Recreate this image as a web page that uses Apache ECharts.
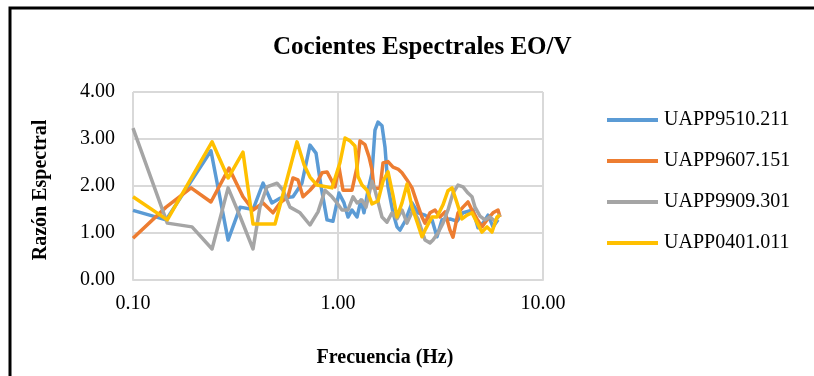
<!DOCTYPE html>
<html>
<head>
<meta charset="utf-8">
<script src="https://cdn.jsdelivr.net/npm/echarts@6/dist/echarts.min.js"></script>
<style>
  html, body { margin: 0; padding: 0; background: #fff; }
  #chart { width: 814px; height: 376px; }
</style>
</head>
<body>
<div id="chart"></div>
<script>
// nombres de las estaciones
const seriesNames = ["UAPP9510.211", "UAPP9607.151", "UAPP9909.301", "UAPP0401.011"];
const seriesColors = ["#5B9BD5", "#ED7D31", "#A5A5A5", "#FFC000"];

// UAPP9510.211
const freqBlue = [0.100, 0.145, 0.240, 0.291, 0.333, 0.385, 0.431, 0.476, 0.521, 0.603,
  0.667, 0.730, 0.781, 0.826, 0.884, 0.945, 1.011, 1.070, 1.119, 1.170,
  1.238, 1.295, 1.339, 1.401, 1.465, 1.515, 1.567, 1.639, 1.695, 1.754,
  1.855, 1.940, 2.006, 2.123, 2.296, 2.456, 2.657, 2.874, 3.040, 3.216,
  3.518, 3.806, 4.072, 4.556, 4.818, 5.096, 5.392, 5.703, 6.033];
const valBlue = [1.48, 1.28, 2.75, 0.85, 1.55, 1.50, 2.06, 1.64, 1.74, 1.77,
  2.06, 2.87, 2.70, 2.00, 1.28, 1.25, 1.85, 1.64, 1.34, 1.49,
  1.34, 1.70, 1.43, 1.91, 2.28, 3.19, 3.36, 3.28, 2.83, 1.98,
  1.43, 1.13, 1.06, 1.25, 1.64, 1.43, 1.38, 1.28, 0.92, 1.28,
  1.30, 1.25, 1.43, 1.49, 1.11, 1.21, 1.38, 1.13, 1.28];

// UAPP9607.151
const freqOrange = [0.100, 0.145, 0.192, 0.240, 0.294, 0.344, 0.385, 0.431, 0.482, 0.521,
  0.570, 0.603, 0.638, 0.675, 0.730, 0.790, 0.836, 0.884, 0.967, 1.011,
  1.058, 1.170, 1.238, 1.280, 1.354, 1.417, 1.465, 1.498, 1.603, 1.658,
  1.754, 1.855, 1.962, 2.052, 2.171, 2.296, 2.429, 2.568, 2.657, 2.811,
  2.973, 3.144, 3.326, 3.518, 3.639, 3.849, 4.072, 4.306, 4.504, 4.764,
  5.040, 5.332, 5.703, 6.033, 6.170];
const valOrange = [0.89, 1.55, 1.96, 1.66, 2.38, 1.77, 1.49, 1.64, 1.43, 1.64,
  1.77, 2.17, 2.13, 1.77, 1.91, 2.08, 2.28, 2.30, 1.98, 2.40,
  1.91, 1.91, 2.40, 2.96, 2.88, 2.62, 2.35, 1.95, 1.95, 2.49,
  2.52, 2.40, 2.36, 2.28, 2.13, 1.96, 1.64, 1.34, 1.21, 1.43,
  1.49, 1.34, 1.45, 1.06, 0.91, 1.43, 1.55, 1.66, 1.49, 1.30,
  1.13, 1.28, 1.43, 1.49, 1.34];

// UAPP9909.301
const freqGray = [0.100, 0.147, 0.194, 0.243, 0.291, 0.333, 0.385, 0.416, 0.450, 0.504,
  0.539, 0.583, 0.653, 0.730, 0.799, 0.864, 0.935, 0.989, 1.046, 1.119,
  1.184, 1.238, 1.309, 1.370, 1.465, 1.515, 1.639, 1.734, 1.834, 1.940,
  2.052, 2.171, 2.322, 2.456, 2.657, 2.811, 2.907, 3.074, 3.252, 3.440,
  3.639, 3.849, 4.072, 4.306, 4.504, 4.660, 4.928, 5.213, 5.514, 5.833, 6.170];
const valGray = [3.23, 1.21, 1.13, 0.66, 1.96, 1.35, 0.66, 1.55, 1.98, 2.06,
  1.91, 1.55, 1.43, 1.17, 1.45, 1.91, 1.77, 1.64, 1.49, 1.49,
  1.77, 1.64, 1.70, 1.55, 2.10, 1.91, 1.34, 1.23, 1.43, 1.30,
  1.49, 1.21, 1.49, 1.30, 0.85, 0.79, 0.85, 1.00, 1.21, 1.49,
  1.85, 2.02, 1.98, 1.85, 1.77, 1.55, 1.36, 1.28, 1.34, 1.25, 1.40];

// UAPP0401.011
const freqYellow = [0.100, 0.147, 0.243, 0.291, 0.344, 0.385, 0.493, 0.631, 0.683, 0.730,
  0.790, 0.935, 1.023, 1.082, 1.145, 1.210, 1.252, 1.309, 1.385, 1.465,
  1.567, 1.658, 1.754, 1.855, 1.940, 2.052, 2.171, 2.296, 2.429, 2.568,
  2.657, 2.874, 3.040, 3.252, 3.440, 3.598, 3.806, 4.026, 4.258, 4.504,
  4.764, 5.040, 5.332, 5.639, 5.966, 6.170];
const valYellow = [1.77, 1.28, 2.94, 2.17, 2.72, 1.19, 1.19, 2.94, 2.45, 2.19,
  2.02, 1.96, 2.50, 3.02, 2.96, 2.85, 2.20, 2.02, 1.91, 1.62,
  1.68, 2.10, 2.30, 1.80, 1.34, 1.64, 2.04, 1.55, 1.24, 0.92,
  1.06, 1.34, 1.34, 1.60, 1.90, 1.96, 1.64, 1.30, 1.38, 1.43,
  1.22, 1.02, 1.13, 1.02, 1.34, 1.38];

const freqs = [freqBlue, freqOrange, freqGray, freqYellow];
const vals = [valBlue, valOrange, valGray, valYellow];

const serif = "'Liberation Serif', 'Times New Roman', serif";
const gridColor = "#d9d9d9";

const chart = echarts.init(document.getElementById("chart"), null, { renderer: "canvas" });

const option = {
  animation: false,
  backgroundColor: "#fff",
  title: {
    text: "Cocientes Espectrales EO/V",
    left: 268,
    top: 30,
    textStyle: { fontFamily: serif, fontSize: 25, fontWeight: "bold", color: "#000" },
  },
  legend: {
    orient: "vertical",
    left: 602,
    top: 105,
    itemWidth: 51,
    itemHeight: 4,
    itemGap: 21,
    icon: "rect",
    data: seriesNames,
    textStyle: { fontFamily: serif, fontSize: 20, color: "#000", lineHeight: 20, padding: [0, 0, 0, 1] },
  },
  grid: { left: 133, right: 271, top: 92, bottom: 96, containLabel: false },
  xAxis: {
    type: "log",
    logBase: 10,
    min: 0.1,
    max: 10,
    axisLine: { show: true, lineStyle: { color: gridColor, width: 2 } },
    axisTick: { show: false },
    axisLabel: {
      margin: 14,
      fontFamily: serif,
      fontSize: 20,
      color: "#000",
      formatter: (v) => Number(v).toFixed(2),
    },
    splitLine: { show: true, lineStyle: { color: gridColor, width: 2 } },
  },
  yAxis: {
    type: "value",
    min: 0,
    max: 4,
    interval: 1,
    axisLine: { show: false },
    axisTick: { show: false },
    axisLabel: {
      margin: 18,
      fontFamily: serif,
      fontSize: 20,
      color: "#000",
      formatter: (v) => v.toFixed(2),
    },
    splitLine: { show: true, lineStyle: { color: gridColor, width: 2 } },
  },
  graphic: [
    {
      type: "rect",
      silent: true,
      shape: { x: 10, y: 8, width: 900, height: 500 },
      style: { fill: "none", stroke: "#000", lineWidth: 3 },
    },
    {
      type: "text",
      x: 41,
      y: 190,
      rotation: Math.PI / 2,
      style: {
        text: "Razón Espectral",
        font: "bold 20px " + serif,
        fill: "#000",
        align: "center",
        verticalAlign: "middle",
      },
    },
    {
      type: "text",
      x: 385,
      y: 358,
      style: {
        text: "Frecuencia (Hz)",
        font: "bold 20px " + serif,
        fill: "#000",
        align: "center",
        verticalAlign: "middle",
      },
    },
  ],
  series: seriesNames.map((name, i) => ({
    name: name,
    type: "line",
    data: freqs[i].map((f, j) => [f, vals[i][j]]),
    showSymbol: false,
    symbol: "none",
    smooth: false,
    color: seriesColors[i],
    lineStyle: { color: seriesColors[i], width: 3.5, join: "round" },
  })),
};

chart.setOption(option);
</script>
</body>
</html>
